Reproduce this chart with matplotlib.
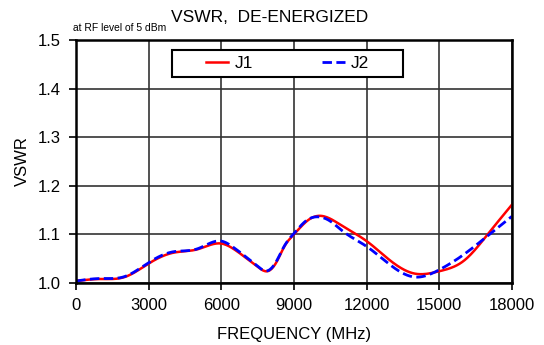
import numpy as np
import matplotlib
matplotlib.use('Agg')
import matplotlib.pyplot as plt
from matplotlib.patches import Rectangle

plt.rcParams['font.family'] = ['Liberation Sans', 'DejaVu Sans']

# frequency points (MHz)
freq_j1 = [0, 1000, 2000, 3000, 4000, 5000, 6000, 6500, 7000, 7500, 7900, 8300, 8600,
           9000, 9500, 10000, 10500, 11000, 12000, 13000, 14000, 15000, 16000, 17000, 18000]
vswr_j1 = [1.004, 1.008, 1.012, 1.040, 1.062, 1.069, 1.081, 1.070, 1.052, 1.033, 1.024, 1.045, 1.075,
           1.100, 1.126, 1.138, 1.132, 1.117, 1.086, 1.045, 1.019, 1.024, 1.045, 1.100, 1.161]

freq_j2 = [0, 1000, 2000, 3000, 4000, 5000, 6000, 6500, 7000, 7500, 7900, 8300, 8600,
           9000, 9500, 10000, 10500, 11000, 12000, 13000, 14000, 15000, 16000, 17000, 18000]
vswr_j2 = [1.004, 1.009, 1.013, 1.042, 1.064, 1.070, 1.086, 1.073, 1.054, 1.034, 1.025, 1.047, 1.076,
           1.102, 1.128, 1.136, 1.127, 1.107, 1.075, 1.036, 1.012, 1.027, 1.058, 1.097, 1.137]


def spline(x, y, n=500):
    # natural cubic spline through the read points, only to draw a smooth line
    x = np.asarray(x, float)
    y = np.asarray(y, float)
    h = np.diff(x)
    m = len(x)
    A = np.zeros((m, m))
    b = np.zeros(m)
    A[0, 0] = A[-1, -1] = 1
    for i in range(1, m - 1):
        A[i, i - 1] = h[i - 1]
        A[i, i] = 2 * (h[i - 1] + h[i])
        A[i, i + 1] = h[i]
        b[i] = 6 * ((y[i + 1] - y[i]) / h[i] - (y[i] - y[i - 1]) / h[i - 1])
    M = np.linalg.solve(A, b)
    xs = np.linspace(x[0], x[-1], n)
    idx = np.clip(np.searchsorted(x, xs) - 1, 0, m - 2)
    t0 = x[idx + 1] - xs
    t1 = xs - x[idx]
    hi = h[idx]
    ys = (M[idx] * t0 ** 3 + M[idx + 1] * t1 ** 3) / (6 * hi) \
        + (y[idx] / hi - M[idx] * hi / 6) * t0 + (y[idx + 1] / hi - M[idx + 1] * hi / 6) * t1
    return xs, ys


fig = plt.figure(figsize=(5.44, 3.45), dpi=100)
ax = fig.add_axes([0.140, 0.180, 0.801, 0.704])

x1, y1 = spline(freq_j1, vswr_j1)
x2, y2 = spline(freq_j2, vswr_j2)
ax.plot(x1, y1, color='red', lw=1.8, label='J1')
ax.plot(x2, y2, color='blue', lw=2.0, dashes=(3.4, 1.6), label='J2')

ax.set_xlim(0, 18000)
ax.set_ylim(1.0, 1.5)
ax.set_xticks(np.arange(0, 18001, 3000))
ax.set_yticks(np.arange(1.0, 1.51, 0.1))
ax.set_yticklabels(['%.1f' % v for v in np.arange(1.0, 1.51, 0.1)])
ax.grid(True, color='#333333', lw=1.2)
ax.set_axisbelow(True)
for s in ax.spines.values():
    s.set_linewidth(1.8)
ax.tick_params(labelsize=12, length=5, width=1.2, direction='out', pad=6)

ax.set_xlabel('FREQUENCY (MHz)', fontsize=12, labelpad=10)
ax.set_ylabel('VSWR', fontsize=12, labelpad=6)
fig.text(0.495, 0.948, 'VSWR,  DE-ENERGIZED', fontsize=12.5, ha='center', va='center')
fig.text(0.134, 0.903, 'at RF level of 5 dBm', fontsize=7.4, ha='left', va='bottom')

# legend box drawn separately, entries centred inside it
ax.add_patch(Rectangle((0.220, 0.848), 0.530, 0.111, transform=ax.transAxes,
                       facecolor='white', edgecolor='black', lw=1.5, zorder=5))
leg = ax.legend(loc='center', bbox_to_anchor=(0.485, 0.9035), ncol=2, fontsize=12.5,
                frameon=False, handlelength=1.3, handletextpad=0.35,
                columnspacing=4.0, borderpad=0.0)
leg.set_zorder(6)

fig.savefig('out.png', dpi=100)
